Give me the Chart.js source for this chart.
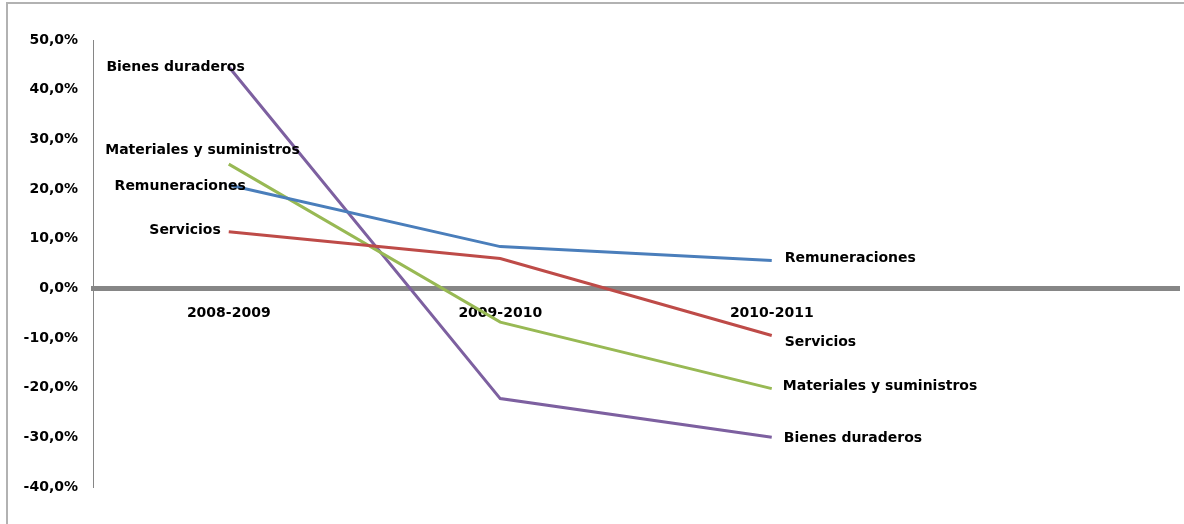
<!DOCTYPE html>
<html>
<head>
<meta charset="utf-8">
<script src="https://cdn.jsdelivr.net/npm/chart.js@4"></script>
<style>
  html, body { margin: 0; padding: 0; background: #fff; }
  #frame {
    position: absolute; left: 6px; top: 2px; width: 1200px; height: 540px;
    border: 2px solid #b2b2b2; box-sizing: border-box;
  }
  #chartContainer { position: absolute; left: 0; top: 0; width: 1184px; height: 524px; }
</style>
</head>
<body>
<div id="frame"></div>
<div id="chartContainer"><canvas id="chartData"></canvas></div>
<script>
const periods = ['2008-2009', '2009-2010', '2010-2011', ''];
const remuneraciones = [20.8, 8.4, 5.6];
const servicios = [11.4, 6.0, -9.5];
const materiales = [25.0, -6.8, -20.2];
const bienes = [44.6, -22.2, -30.0];
const yTicks = [-40, -30, -20, -10, 0, 10, 20, 30, 40, 50];

const FONT = "'DejaVu Sans', sans-serif";

// where each series name sits next to its first / last point
const labelSpots = {
  'Remuneraciones': { start: [17, 1], end: [13, -2] },
  'Servicios': { start: [-8, -1], end: [13, 7] },
  'Materiales y suministros': { start: [71, -14], end: [11, -2] },
  'Bienes duraderos': { start: [16, 1], end: [12, 1] },
};

const seriesLabels = {
  id: 'seriesLabels',
  afterDatasetsDraw(chart) {
    const ctx = chart.ctx;
    ctx.save();
    ctx.font = 'bold 14px ' + FONT;
    ctx.fillStyle = '#000';
    ctx.textBaseline = 'middle';
    chart.data.datasets.forEach((ds, i) => {
      const pts = chart.getDatasetMeta(i).data;
      const spot = labelSpots[ds.label];
      const first = pts[0];
      const last = pts[ds.data.length - 1];
      ctx.textAlign = 'right';
      ctx.fillText(ds.label, first.x + spot.start[0], first.y + spot.start[1]);
      ctx.textAlign = 'left';
      ctx.fillText(ds.label, last.x + spot.end[0], last.y + spot.end[1]);
    });
    ctx.restore();
  }
};

const ctx = document.getElementById('chartData').getContext('2d');
new Chart(ctx, {
  type: 'line',
  data: {
    labels: periods,
    datasets: [
      { label: 'Remuneraciones', data: remuneraciones, borderColor: '#4a7ebb' },
      { label: 'Servicios', data: servicios, borderColor: '#be4b48' },
      { label: 'Materiales y suministros', data: materiales, borderColor: '#98b954' },
      { label: 'Bienes duraderos', data: bienes, borderColor: '#7d60a0' },
    ],
  },
  options: {
    responsive: true,
    maintainAspectRatio: false,
    animation: false,
    layout: { padding: { top: 40, bottom: 37, right: 5, left: 0 } },
    elements: {
      line: { borderWidth: 3, tension: 0, fill: false },
      point: { radius: 0, hoverRadius: 0 },
    },
    plugins: {
      legend: { display: false },
      tooltip: { enabled: false },
    },
    scales: {
      x: {
        position: { y: 0 },
        offset: true,
        grid: { display: false, drawTicks: false },
        border: { color: '#868686', width: 5 },
        ticks: {
          color: '#000',
          padding: 17,
          maxRotation: 0,
          font: { family: FONT, size: 14, weight: 'bold' },
        },
      },
      y: {
        min: -40,
        max: 50,
        afterBuildTicks: axis => { axis.ticks = yTicks.map(v => ({ value: v })); },
        afterFit: axis => { axis.width = 93; },
        grid: { display: false, drawTicks: false },
        border: { color: '#868686', width: 1 },
        ticks: {
          color: '#000',
          padding: 15,
          font: { family: FONT, size: 14, weight: 'bold' },
          callback: v => v.toFixed(1).replace('.', ',') + '%',
        },
      },
    },
  },
  plugins: [seriesLabels],
});
</script>
</body>
</html>
